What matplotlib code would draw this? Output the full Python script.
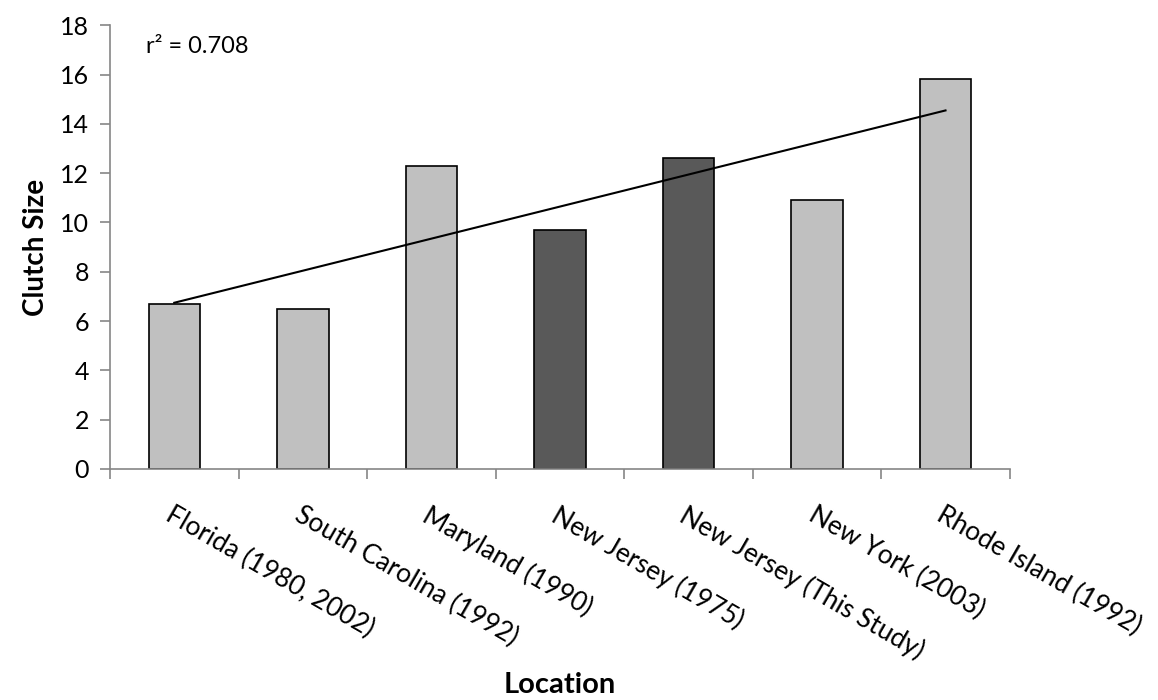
import numpy as np
import matplotlib
matplotlib.use('Agg')
from matplotlib import pyplot as plt

plt.rcParams['font.family'] = ['Lato', 'DejaVu Sans']

locations = ['Florida (1980, 2002)', 'South Carolina (1992)', 'Maryland (1990)',
             'New Jersey (1975)', 'New Jersey (This Study)', 'New York (2003)',
             'Rhode Island (1992)']
clutch = [6.7, 6.5, 12.3, 9.7, 12.6, 10.9, 15.8]
this_state = [False, False, False, True, True, False, False]

light = '#c0c0c0'
dark = '#595959'
axis_grey = '#868686'

fig = plt.figure(figsize=(11.58, 7), dpi=100, facecolor='w')
ax = fig.add_axes([0.095, 0.33, 0.777, 0.634])

x = np.arange(len(locations))
colors = [dark if d else light for d in this_state]
ax.bar(x, clutch, width=0.4, color=colors, edgecolor='black', linewidth=1.2, zorder=2)

# linear trend line over the categories
slope, icpt = np.polyfit(x, clutch, 1)
ax.plot(x, slope * x + icpt, color='black', linewidth=1.5, zorder=3)
r2 = np.corrcoef(x, clutch)[0, 1] ** 2
ax.text(0.04, 0.975, 'r² = %.3f' % r2, transform=ax.transAxes, fontsize=17,
        ha='left', va='top')

ax.set_xlim(-0.5, len(locations) - 0.5)
ax.set_ylim(0, 18)
ax.set_yticks(range(0, 19, 2))
ax.tick_params(axis='y', labelsize=18, length=7, color=axis_grey, width=1.2, pad=8)

# category labels at centres, tick marks at the boundaries
ax.set_xticks(x)
ax.set_xticklabels(locations, rotation=-30, ha='left', va='top',
                   rotation_mode='anchor', fontsize=19)
ax.tick_params(axis='x', length=0, pad=24)
ax.set_xticks(np.arange(-0.5, len(locations) + 0.5), minor=True)
ax.tick_params(axis='x', which='minor', length=7, color=axis_grey, width=1.2, direction='out')

for s in ['top', 'right']:
    ax.spines[s].set_visible(False)
for s in ['left', 'bottom']:
    ax.spines[s].set_color(axis_grey)
    ax.spines[s].set_linewidth(1.2)

ax.set_ylabel('Clutch Size', fontsize=20, fontweight='bold', labelpad=8)
fig.text(0.483, 0.003, 'Location', fontsize=21, fontweight='bold', ha='center', va='bottom')

fig.savefig('out.png', dpi=100, facecolor='w')
